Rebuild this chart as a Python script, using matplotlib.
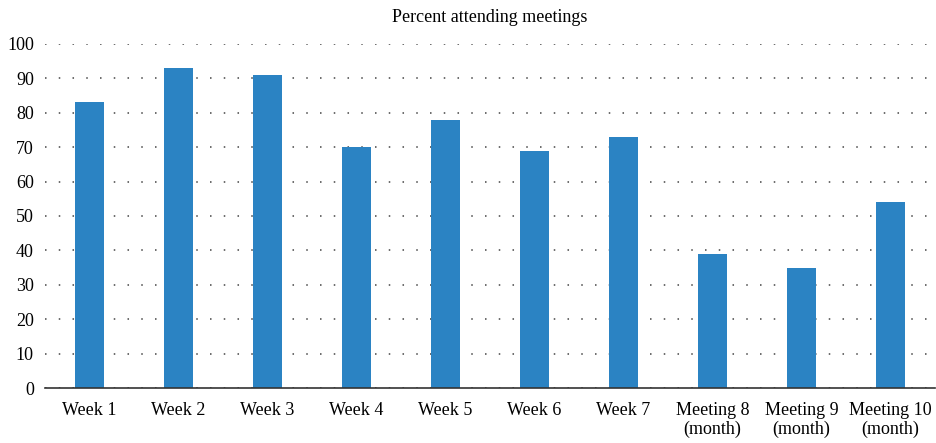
import matplotlib.pyplot as plt
import numpy as np

plt.rcParams['font.family'] = ['Liberation Serif', 'DejaVu Serif']

labels = ["Week 1", "Week 2", "Week 3", "Week 4", "Week 5", "Week 6", "Week 7",
          "Meeting 8\n(month)", "Meeting 9\n(month)", "Meeting 10\n(month)"]
percent = [83, 93, 91, 70, 78, 69, 73, 39, 35, 54]

fig = plt.figure(figsize=(9.36, 4.43), dpi=100)
ax = fig.add_axes([0.048, 0.124, 0.951, 0.777])
x = np.arange(len(labels))
ax.bar(x, percent, width=0.32, color="#2b83c3", zorder=2)
ax.set_xlim(-0.5, len(labels) - 0.5)
ax.set_ylim(0, 100)
ax.set_yticks(range(0, 101, 10))
ax.set_xticks(x)
ax.set_xticklabels(labels, fontsize=13, linespacing=1.15)
ax.tick_params(axis='y', labelsize=13, length=0, pad=8)
ax.tick_params(axis='x', length=0, pad=10)
ax.yaxis.grid(True, linestyle=(0, (1, 8)), color="#444444", linewidth=1.1, zorder=0)
for s in ["top", "right", "left"]:
    ax.spines[s].set_visible(False)
ax.spines["bottom"].set_color("#333333")
ax.spines["bottom"].set_linewidth(1.2)
ax.set_title("Percent attending meetings", fontsize=13, pad=16)
fig.savefig("out.png", dpi=100)
